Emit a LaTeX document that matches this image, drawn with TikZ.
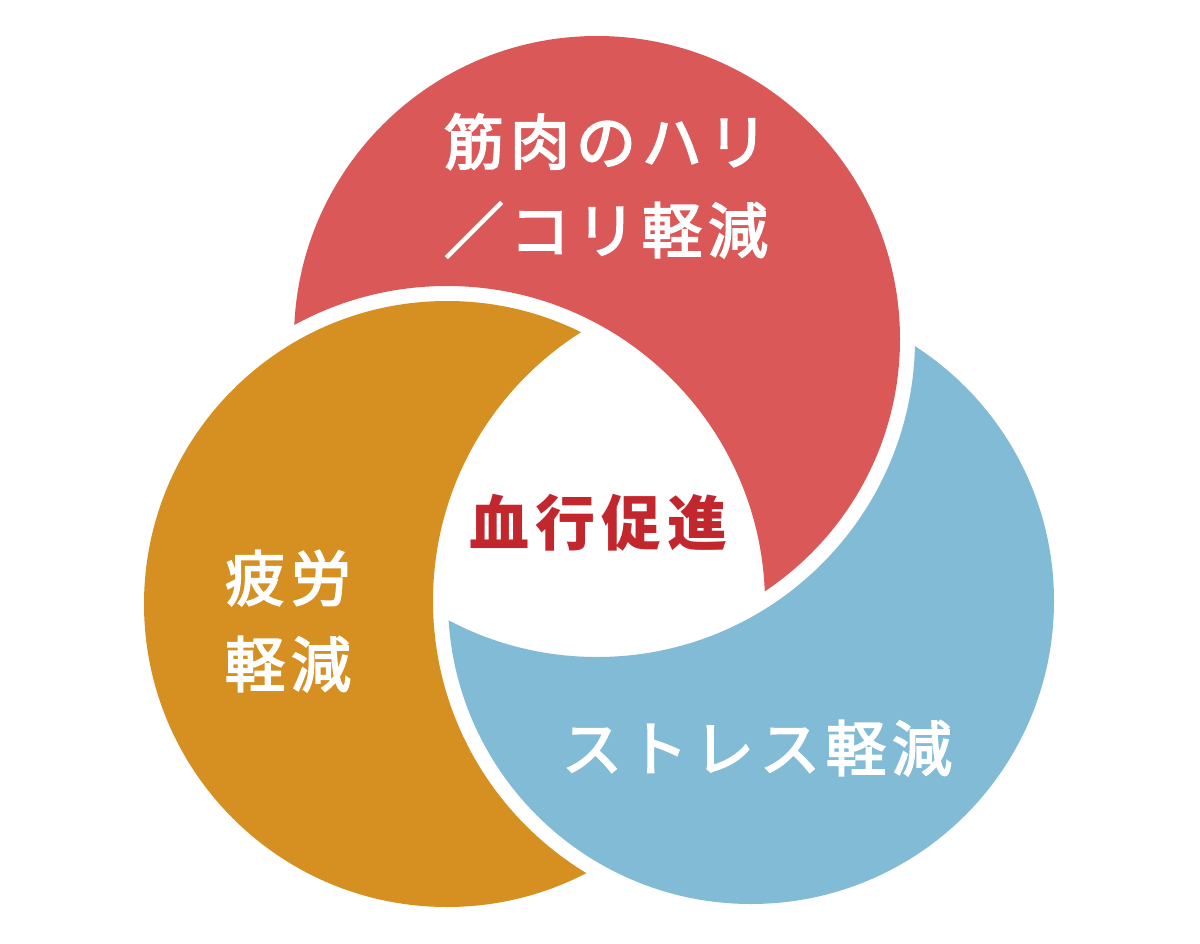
\documentclass[tikz,border=0pt]{standalone}
\usepackage{fontspec}
\setmainfont{Noto Sans CJK JP}
\newfontfamily\jpfont{Noto Sans CJK JP}[LetterSpace=10]
\newfontfamily\jpwfont{Noto Sans CJK JP}[LetterSpace=10, FakeBold=3]
\definecolor{redc}{HTML}{DB5859}
\definecolor{orangec}{HTML}{D68F21}
\definecolor{bluec}{HTML}{82BBD6}
\definecolor{textred}{HTML}{C1272D}
\tikzset{
  wtext/.style={inner sep=0pt, text=white, font=\jpwfont\fontsize{60}{60}\selectfont},
  ctext/.style={inner sep=0pt, text=textred, font=\jpfont\bfseries\fontsize{60}{60}\selectfont}
}
\begin{document}
\begin{tikzpicture}[x=1pt,y=-1pt]
\useasboundingbox (0,0) rectangle (1200,944);
\coordinate (cr) at (597,339);
\coordinate (co) at (447,604);
\coordinate (cb) at (751,601);
% red petal: red circle outside the orange gap circle
\begin{scope}
\clip (cr) circle[radius=303];
\fill[redc, even odd rule] (-20,-20) rectangle (1220,964) (co) circle[radius=318];
\end{scope}
% orange petal: orange circle outside the blue gap circle
\begin{scope}
\clip (co) circle[radius=303];
\fill[orangec, even odd rule] (-20,-20) rectangle (1220,964) (cb) circle[radius=318];
\end{scope}
% blue petal: blue circle outside the red gap circle
\begin{scope}
\clip (cb) circle[radius=303];
\fill[bluec, even odd rule] (-20,-20) rectangle (1220,964) (cr) circle[radius=318];
\end{scope}
\node[wtext] (t1) at (606,141.5) {筋肉のハリ};
\node[wtext] (t2) at (606,230) {／コリ軽減};
\node[wtext] (t3) at (288,578) {疲労};
\node[wtext] (t4) at (288,664) {軽減};
\node[wtext] (t5) at (757,748) {ストレス軽減};
\node[ctext] (t6) at (598,523) {血行促進};
\end{tikzpicture}
\end{document}
